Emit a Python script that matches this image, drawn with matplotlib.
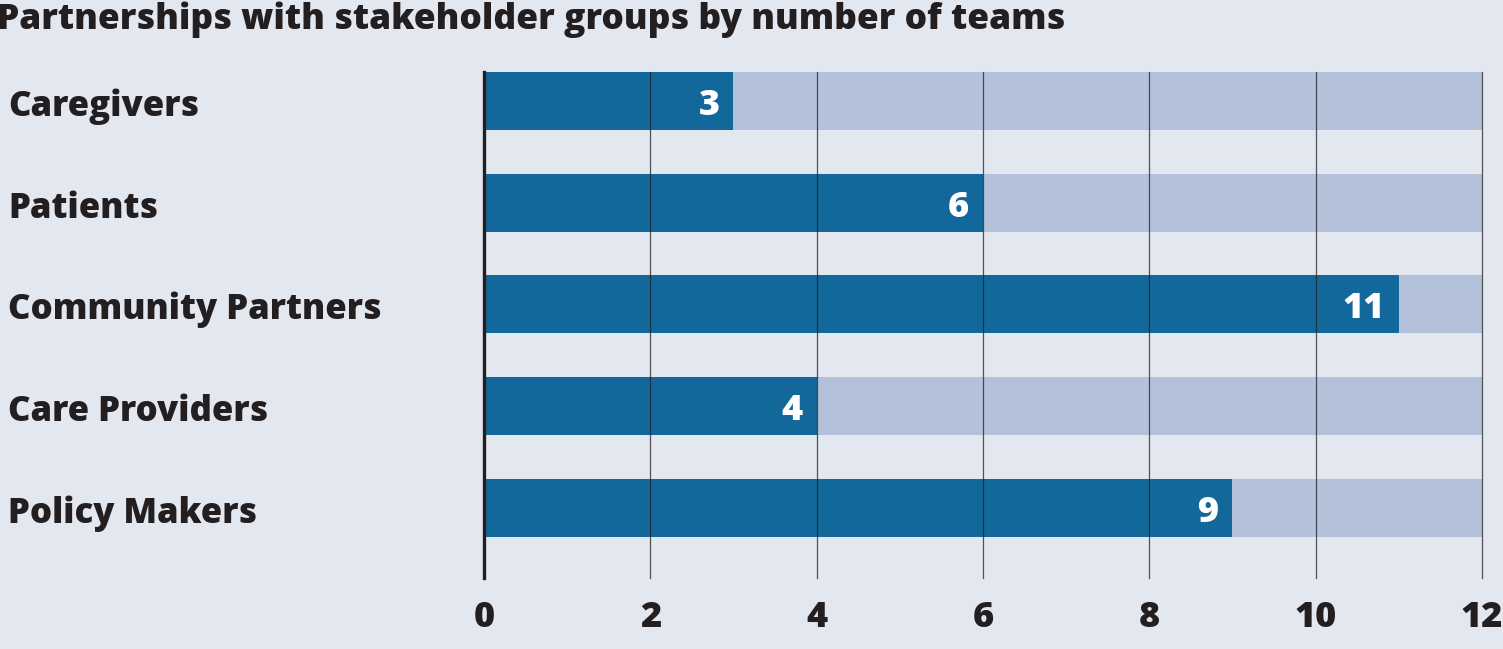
import matplotlib
matplotlib.use("Agg")
import matplotlib.pyplot as plt

categories = ["Caregivers", "Patients", "Community Partners", "Care Providers", "Policy Makers"]
values = [3, 6, 11, 4, 9]
max_value = 12
xticks = [0, 2, 4, 6, 8, 10, 12]
title = "Partnerships with stakeholder groups by number of teams"

BG = "#e3e7f0"
DARK = "#13689b"
LIGHT = "#b4c1da"
TXT = "#231f20"

plt.rcParams['font.family'] = ['Open Sans', 'DejaVu Sans']
W = 800

fig = plt.figure(figsize=(15.03, 6.49), dpi=100, facecolor=BG)
ax = fig.add_axes([0.322, 0.1094, 0.664, 0.7797])
ax.set_facecolor(BG)

y = list(range(len(categories)))
h = 0.57
ax.barh(y, [max_value] * len(values), height=h, color=LIGHT, zorder=1)
ax.barh(y, values, height=h, color=DARK, zorder=2)

for yi, v in zip(y, values):
    ax.annotate(str(v), xy=(v, yi), xycoords="data", xytext=(-14, -14),
                textcoords="offset pixels", ha="right", va="baseline",
                color="white", fontsize=26, fontweight=W, zorder=4)

ax.set_xlim(0, max_value)
ax.set_ylim(4.69, -0.285)
for xt in xticks[1:]:
    ax.axvline(xt, color=TXT, lw=0.9, alpha=0.75, zorder=3, clip_on=False)
ax.axvline(0, color=TXT, lw=2.4, zorder=5, clip_on=False)

for s in ax.spines.values():
    s.set_visible(False)
ax.set_xticks(xticks)
ax.set_xticklabels([str(t) for t in xticks], fontsize=26, fontweight=W, color=TXT)
ax.tick_params(axis="x", length=0, pad=16)
ax.set_yticks([])

for yi, c in zip(y, categories):
    ax.annotate(c, xy=(0, yi), xycoords=("figure fraction", "data"),
                xytext=(8, -15), textcoords="offset pixels",
                ha="left", va="baseline", fontsize=25, fontweight=W, color=TXT)

fig.text(-0.002, 0.955, title, ha="left", va="baseline", fontsize=25.5,
         fontweight=W, color=TXT)

fig.savefig("out.png", dpi=100, facecolor=BG)
